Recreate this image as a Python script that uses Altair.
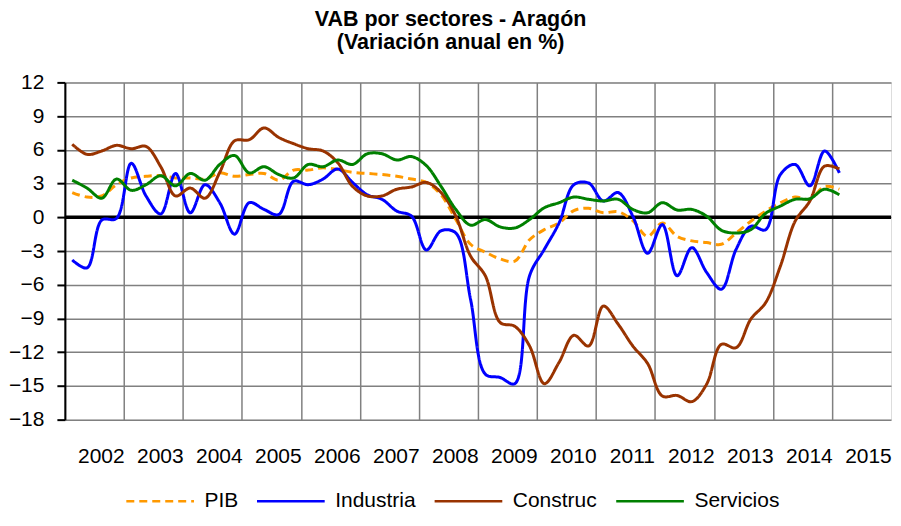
import altair as alt
import pandas as pd

# Trimestres 2002T1 .. 2015T1
periodos = [f"{2002 + i // 4}T{i % 4 + 1}" for i in range(53)]
years = list(range(2002, 2016))

pib = [2.2, 1.8, 1.9, 2.9, 3.5, 3.65, 3.7, 3.5, 3.5, 3.4, 3.95, 3.65, 3.8,
       3.9, 3.3, 4.2, 4.2, 4.4, 4.25, 4.0, 3.9, 3.8, 3.65, 3.4, 3.1, 2.0,
       -0.2, -2.4, -3.1, -3.7, -3.9, -2.0, -1.1, -0.5, 0.6, 0.8, 0.4, 0.5,
       -0.3, -1.7, -0.5, -1.7, -2.1, -2.25, -2.4, -1.4, -0.35, 0.55, 1.3,
       1.8, 1.6, 2.75, 2.5]
industria = [-3.8, -4.5, -0.25, -0.1, 4.8, 1.9, 0.3, 3.9, 0.4, 2.9, 1.3,
             -1.5, 1.3, 0.7, 0.25, 3.2, 2.9, 3.4, 4.3, 3.1, 2.0, 1.6, 0.55,
             0.1, -2.9, -1.2, -1.4, -7.3, -13.95, -14.25, -14.8, -5.2, -2.85,
             -0.5, 2.9, 3.05, 1.45, 2.2, 0.1, -3.2, -0.65, -5.2, -2.7, -4.9,
             -6.4, -2.85, -0.8, -1.1, 3.8, 4.7, 2.8, 5.9, 3.95]
construc = [6.5, 5.6, 5.9, 6.4, 6.1, 6.3, 4.5, 1.9, 2.6, 1.7, 4.0, 6.8, 6.9,
            7.95, 7.1, 6.55, 6.1, 5.9, 4.85, 2.75, 1.9, 1.9, 2.5, 2.7, 3.1,
            2.2, 0.1, -3.45, -5.2, -9.35, -9.7, -11.45, -14.8, -12.9, -10.5,
            -11.45, -7.9, -9.5, -11.45, -13.0, -15.9, -15.85, -16.4, -14.85,
            -11.3, -11.6, -9.05, -7.6, -4.35, -0.35, 1.45, 4.55, 4.3]
servicios = [3.3, 2.6, 1.7, 3.4, 2.4, 2.9, 3.7, 2.8, 3.9, 3.3, 4.7, 5.5,
             3.95, 4.5, 3.8, 3.5, 4.7, 4.5, 5.1, 4.7, 5.65, 5.65, 5.1, 5.4,
             4.6, 2.75, 0.7, -0.7, -0.2, -0.85, -0.95, -0.2, 0.85, 1.3, 1.8,
             1.6, 1.45, 1.6, 0.7, 0.4, 1.3, 0.65, 0.7, 0.1, -1.15, -1.4, -1.1,
             0.35, 1.0, 1.6, 1.65, 2.5, 2.0]

series_names = ["PIB", "Industria", "Construc", "Servicios"]
series_colors = ["#FF9900", "#0000FF", "#993300", "#008000"]
series_dash = [[8, 5], [1, 0], [1, 0], [1, 0]]
y_ticks = list(range(-18, 13, 3))

rows = []
for k, (name, vals) in enumerate(zip(series_names, [pib, industria, construc, servicios])):
    for p, v in zip(periodos, vals):
        yr, q = p.split("T")
        rows.append({"serie": name, "orden": k, "periodo": p,
                     "t": int(yr) + (int(q) - 0.5) / 4, "valor": v})
df = pd.DataFrame(rows)

FONT = "Liberation Sans"

x_scale = alt.Scale(domain=[2002, 2016], nice=False, zero=False)
y_scale = alt.Scale(domain=[-18, 12], nice=False)

x_axis = alt.Axis(values=years, title=None, grid=True, gridColor="#808080",
                  gridWidth=1.5, ticks=False, domain=False, format="d",
                  labelOffset=36, labelPadding=26, labelFontSize=21,
                  labelFont=FONT, labelColor="black", labelFlush=False,
                  labelOverlap=False)
y_axis = alt.Axis(values=y_ticks, title=None, grid=True, gridColor="#808080",
                  gridWidth=1.5, tickColor="black", tickWidth=2, tickSize=8,
                  domainColor="black", domainWidth=2, labelPadding=13,
                  labelFontSize=21, labelFont=FONT, labelColor="black",
                  labelOverlap=False, labelBound=False)

legend = alt.Legend(title=None, orient="none", legendX=60, legendY=384,
                    direction="horizontal",
                    symbolType="stroke", symbolSize=4600, symbolStrokeWidth=2.5,
                    labelFontSize=21, labelFont=FONT, labelColor="black",
                    columnPadding=13, labelOffset=9)

lines = alt.Chart(df).mark_line(strokeWidth=3, interpolate="catmull-rom").encode(
    x=alt.X("t:Q", scale=x_scale, axis=x_axis),
    y=alt.Y("valor:Q", scale=y_scale, axis=y_axis),
    color=alt.Color("serie:N", scale=alt.Scale(domain=series_names, range=series_colors),
                    legend=legend),
    strokeDash=alt.StrokeDash("serie:N", scale=alt.Scale(domain=series_names, range=series_dash),
                              legend=legend),
    order=alt.Order("orden:Q"),
)

zero = alt.Chart(pd.DataFrame({"y": [0]})).mark_rule(color="black", strokeWidth=3.5).encode(
    y=alt.Y("y:Q", scale=y_scale, axis=y_axis)
)

chart = alt.layer(zero, lines).properties(
    width=828, height=338,
    title=alt.TitleParams(["VAB por sectores - Aragón", "(Variación anual en %)"],
                          fontSize=21.5, font=FONT, fontWeight="bold", color="black",
                          anchor="middle", frame="bounds", offset=7, lineHeight=23,
                          dy=-11),
    padding={"left": 0, "top": 0, "right": 0, "bottom": 0},
).configure_view(fill="#FFFFCC", stroke="#808080", strokeWidth=1.5).configure(
    background="white"
).configure_axis(labelOverlap=False)

chart.save("out.html", embed_options={"renderer": "svg", "actions": False})
